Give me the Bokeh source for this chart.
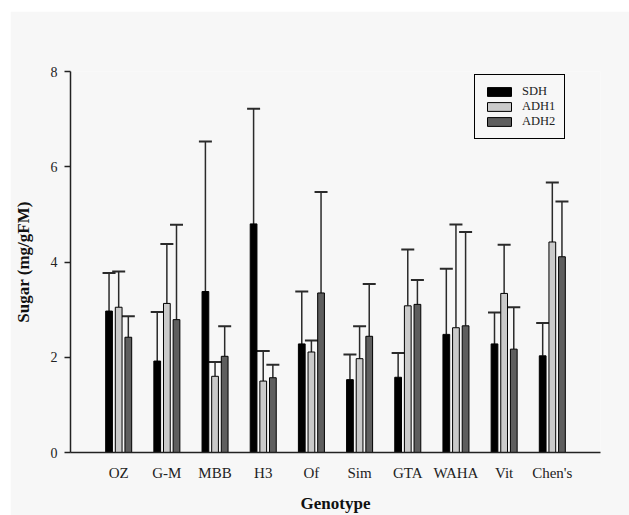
from bokeh.plotting import figure
from bokeh.models import (ColumnDataSource, Range1d, FixedTicker, Whisker, TeeHead,
                          Legend, LegendItem)
from bokeh.embed import file_html
from bokeh.resources import INLINE

genotypes = ["OZ", "G-M", "MBB", "H3", "Of", "Sim", "GTA", "WAHA", "Vit", "Chen's"]
series = ["SDH", "ADH1", "ADH2"]
sdh = [2.97, 1.92, 3.38, 4.80, 2.28, 1.53, 1.58, 2.48, 2.28, 2.03]
sdh_err = [0.80, 1.03, 3.15, 2.42, 1.10, 0.53, 0.51, 1.38, 0.66, 0.69]
adh1 = [3.05, 3.13, 1.60, 1.50, 2.11, 1.97, 3.08, 2.62, 3.34, 4.42]
adh1_err = [0.75, 1.25, 0.30, 0.63, 0.24, 0.68, 1.18, 2.17, 1.02, 1.25]
adh2 = [2.42, 2.79, 2.02, 1.57, 3.35, 2.44, 3.11, 2.66, 2.17, 4.11]
adh2_err = [0.44, 1.99, 0.63, 0.27, 2.12, 1.10, 0.51, 1.97, 0.88, 1.16]
y_ticks = [0, 2, 4, 6, 8]

colors = ["#000000", "#cacaca", "#5e5e5e"]
offsets = [-0.2, 0.0, 0.2]
FONT = "Liberation Serif"

p = figure(width=619, height=504, output_backend="svg", toolbar_location=None,
           x_range=Range1d(-1, 10), y_range=Range1d(0, 8),
           min_border_left=60, min_border_right=29, min_border_top=60,
           min_border_bottom=63)
p.margin = (11, 0, 0, 10)
p.background_fill_color = "#f7f7f7"
p.border_fill_color = "#f7f7f7"
p.outline_line_color = None
p.grid.visible = False

renderers = []
for name, vals, errs, col, off in zip(series, [sdh, adh1, adh2],
                                      [sdh_err, adh1_err, adh2_err], colors, offsets):
    xs = [i + off for i in range(len(genotypes))]
    src = ColumnDataSource(dict(x=xs, top=vals,
                                upper=[v + e for v, e in zip(vals, errs)]))
    r = p.vbar(x="x", top="top", width=0.14, source=src, fill_color=col,
               line_color="#000000", line_width=1)
    renderers.append(r)
    w = Whisker(source=src, base="x", lower="top", upper="upper",
                line_color="#2a2a2a", line_width=1.5,
                upper_head=TeeHead(size=13, line_color="#2a2a2a", line_width=2),
                lower_head=None)
    p.add_layout(w)

# axes
p.xaxis.ticker = FixedTicker(ticks=list(range(len(genotypes))))
p.xaxis.major_label_overrides = {i: g for i, g in enumerate(genotypes)}
p.xaxis.major_tick_line_color = None
p.xaxis.minor_tick_line_color = None
p.xaxis.major_tick_out = 0
p.xaxis.major_tick_in = 0
p.xaxis.major_label_standoff = 12
p.xaxis.major_label_text_font_size = "15px"
p.xaxis.axis_label = "Genotype"
p.xaxis.axis_label_standoff = 10
p.xaxis.axis_label_text_font_style = "bold"
p.xaxis.axis_label_text_font_size = "17px"

p.yaxis.ticker = FixedTicker(ticks=y_ticks)
p.yaxis.minor_tick_line_color = None
p.yaxis.major_tick_out = 6
p.yaxis.major_tick_in = 0
p.yaxis.major_label_standoff = 7
p.yaxis.major_label_text_font_size = "14px"
p.yaxis.axis_label = "Sugar (mg/gFM)"
p.yaxis.axis_label_standoff = 15
p.yaxis.axis_label_text_font_style = "bold"
p.yaxis.axis_label_text_font_size = "17px"

for ax in [p.xaxis[0], p.yaxis[0]]:
    ax.axis_line_color = "#222222"
    ax.axis_line_width = 1.5
    ax.major_tick_line_width = 1.5
    ax.major_label_text_font = FONT
    ax.major_label_text_color = "#222222"
    ax.axis_label_text_font = FONT
    ax.axis_label_text_color = "#111111"
p.yaxis.major_tick_line_color = "#222222"

legend = Legend(items=[LegendItem(label=s, renderers=[r]) for s, r in zip(series, renderers)],
                location=(404, 313), orientation="vertical",
                glyph_width=30, glyph_height=11, label_height=11, spacing=0,
                label_standoff=8, padding=9, margin=0,
                label_text_font=FONT, label_text_font_size="12.5px",
                label_text_color="#222222",
                border_line_color="#000000", border_line_width=1.5,
                border_line_alpha=1,
                background_fill_color="#f7f7f7", background_fill_alpha=1)
p.add_layout(legend, "center")

open("out.html", "w").write(file_html(p, INLINE))
